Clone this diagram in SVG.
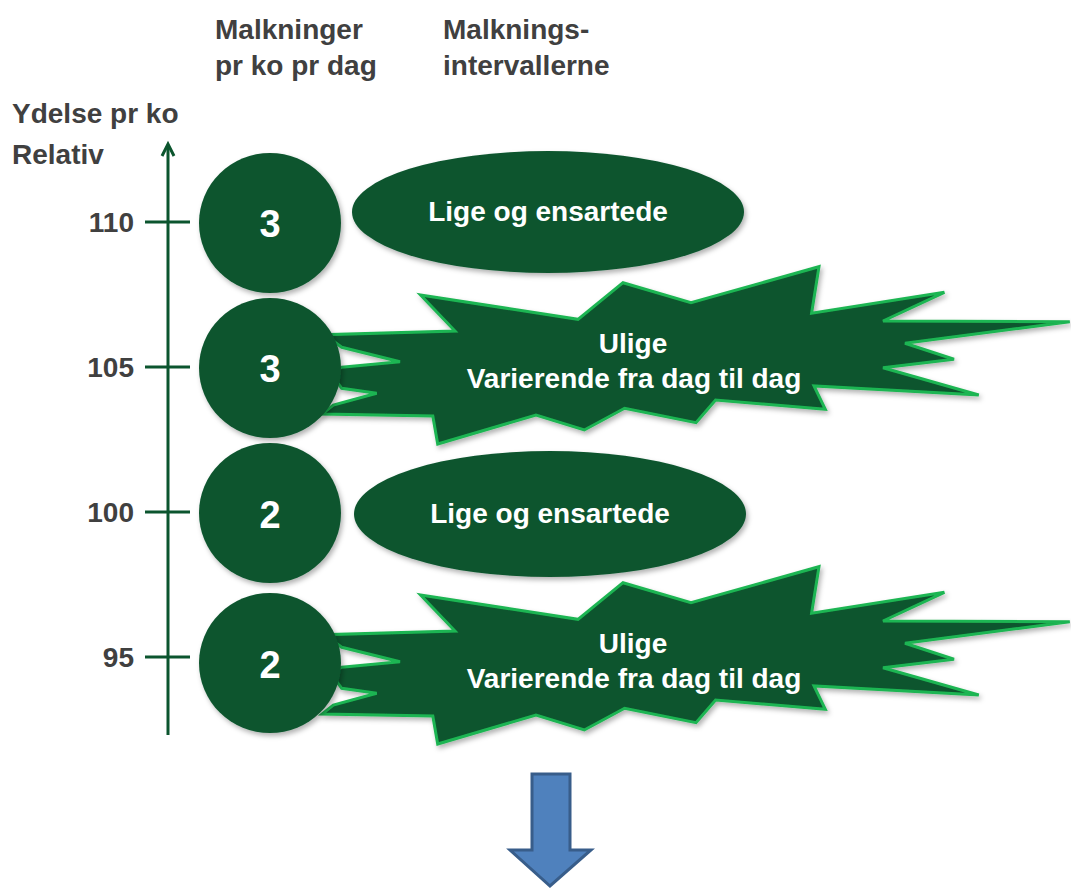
<svg xmlns="http://www.w3.org/2000/svg" width="1071" height="888" viewBox="0 0 1071 888">
<style>
.lbl{font-family:"Liberation Sans",Arial,sans-serif;font-weight:bold;font-size:28px;fill:#404040}
.wt{font-family:"Liberation Sans",Arial,sans-serif;font-weight:bold;font-size:28px;fill:#ffffff;text-anchor:middle}
.num{font-family:"Liberation Sans",Arial,sans-serif;font-weight:bold;font-size:38px;fill:#ffffff;text-anchor:middle}
.dk{fill:#0b552e;filter:url(#sh)}
.burst{fill:#0b552e;stroke:#1fb552;stroke-width:3;stroke-linejoin:miter;filter:url(#sh)}
.ax{stroke:#0b552e;stroke-width:3;fill:none}
</style>
<defs>
<filter id="sh" x="-10%" y="-10%" width="125%" height="130%">
<feDropShadow dx="2" dy="3" stdDeviation="2.5" flood-color="#000000" flood-opacity="0.3"/>
</filter>
<polygon id="burstShape" points="420.5,295 578,319.3 623,282.7 691,302.7 819,266.7 811.6,313.3 944.4,292.3 883,321 1069.8,321.7 905,343.3 954,359.3 883,367.7 978.8,395 814,386 825.3,409.3 715.6,400 696,422.7 624.6,408.3 584.3,430 536,415 437.7,444 432.8,416 322,414 333.3,405 376.7,393.3 341.7,388.3 330,372 341.7,367.3 400,361.7 341.7,347.3 325,334.7 455,331"/>
</defs>
<g id="headers">
<text class="lbl" x="215" y="39">Malkninger</text>
<text class="lbl" x="215" y="75">pr ko pr dag</text>
<text class="lbl" x="443" y="39">Malknings-</text>
<text class="lbl" x="443" y="75">intervallerne</text>
<text class="lbl" x="12" y="123">Ydelse pr ko</text>
<text class="lbl" x="12" y="164">Relativ</text>
</g>
<g id="axis">
<line class="ax" x1="168" y1="735" x2="168" y2="145"/>
<polyline class="ax" points="162,156 168,144 174,156"/>
<line class="ax" x1="145" y1="222" x2="190" y2="222"/>
<line class="ax" x1="145" y1="367" x2="190" y2="367"/>
<line class="ax" x1="145" y1="512" x2="190" y2="512"/>
<line class="ax" x1="145" y1="657" x2="190" y2="657"/>
<text class="lbl" x="134" y="232" text-anchor="end">110</text>
<text class="lbl" x="134" y="377" text-anchor="end">105</text>
<text class="lbl" x="134" y="522" text-anchor="end">100</text>
<text class="lbl" x="134" y="667" text-anchor="end">95</text>
</g>
<g id="ellipse1">
<ellipse class="dk" cx="548" cy="212" rx="196" ry="61"/>
<text class="wt" x="548" y="221">Lige og ensartede</text>
</g>
<g id="ellipse2">
<ellipse class="dk" cx="550" cy="514" rx="196" ry="63"/>
<text class="wt" x="550" y="523">Lige og ensartede</text>
</g>
<g id="burst1">
<use href="#burstShape" class="burst"/>
<text class="wt" x="633" y="353">Ulige</text>
<text class="wt" x="634" y="388">Varierende fra dag til dag</text>
</g>
<g id="burst2">
<use href="#burstShape" class="burst" transform="translate(0,300)"/>
<text class="wt" x="633" y="653">Ulige</text>
<text class="wt" x="634" y="688">Varierende fra dag til dag</text>
</g>
<g id="circle1">
<ellipse class="dk" cx="270" cy="223" rx="71" ry="70"/>
<text class="num" x="270" y="237">3</text>
</g>
<g id="circle2">
<ellipse class="dk" cx="270" cy="368" rx="71" ry="70"/>
<text class="num" x="270" y="382">3</text>
</g>
<g id="circle3">
<ellipse class="dk" cx="270" cy="513" rx="71" ry="70"/>
<text class="num" x="270" y="528">2</text>
</g>
<g id="circle4">
<ellipse class="dk" cx="270" cy="663" rx="71" ry="70"/>
<text class="num" x="270" y="678">2</text>
</g>
<g id="downArrow">
<polygon points="532,774 570,774 570,850 591,850 550,886 510,850 532,850" fill="#4f81bd" stroke="#385d8a" stroke-width="3" stroke-linejoin="miter"/>
</g>
</svg>
